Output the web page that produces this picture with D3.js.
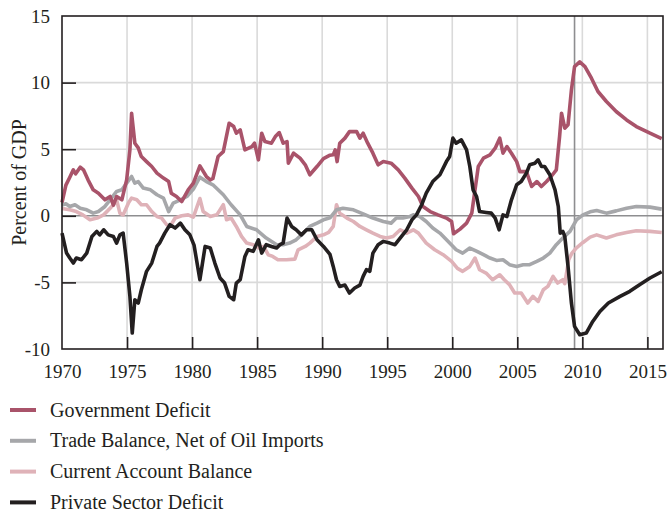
<!DOCTYPE html>
<html>
<head>
<meta charset="utf-8">
<script src="https://cdn.jsdelivr.net/npm/d3@7/dist/d3.min.js"></script>
<style>
  html, body { margin: 0; padding: 0; background: #fff; }
  svg { display: block; }
  text { font-family: "Liberation Serif", "Times New Roman", serif; fill: #231f20; }
</style>
</head>
<body>
<svg id="chart" width="667" height="513"></svg>
<script>
// ---- Data (year, percent of GDP) ----
const governmentDeficit = [
  [1970.0,1.0],[1970.3,2.3],[1970.6,2.9],[1970.87,3.45],[1971.05,3.15],[1971.4,3.65],[1971.65,3.45],
  [1972.0,2.7],[1972.4,1.95],[1972.8,1.7],[1973.05,1.45],[1973.3,1.2],[1973.7,1.45],[1973.95,0.8],
  [1974.2,1.45],[1974.6,1.2],[1974.97,2.7],[1975.22,4.95],[1975.35,7.7],[1975.6,5.45],[1975.86,5.1],
  [1976.1,4.45],[1976.5,4.07],[1976.9,3.7],[1977.3,3.2],[1977.8,2.83],[1978.2,2.57],[1978.4,1.7],
  [1978.8,1.45],[1979.2,1.07],[1979.7,1.95],[1980.1,2.45],[1980.6,3.75],[1981.1,2.95],[1981.4,2.7],
  [1981.6,2.8],[1982.0,4.45],[1982.4,4.82],[1982.85,6.95],[1983.2,6.7],[1983.4,6.2],[1983.7,6.45],
  [1984.06,4.95],[1984.6,5.2],[1984.8,5.45],[1985.1,4.2],[1985.35,6.2],[1985.6,5.57],[1986.1,5.45],
  [1986.4,5.95],[1986.7,6.25],[1987.0,5.45],[1987.3,5.57],[1987.4,3.95],[1987.8,4.7],[1988.3,4.33],
  [1988.7,3.83],[1989.05,3.08],[1989.6,3.7],[1990.1,4.3],[1990.6,4.55],[1990.85,4.58],[1991.0,4.95],
  [1991.15,4.07],[1991.35,5.45],[1991.75,5.83],[1992.1,6.32],[1992.65,6.32],[1992.9,5.83],[1993.15,6.2],
  [1993.5,5.45],[1993.9,4.7],[1994.3,3.83],[1994.7,4.07],[1995.3,3.95],[1995.85,3.45],[1996.35,2.83],
  [1996.9,2.08],[1997.4,1.45],[1997.75,0.7],[1998.3,0.32],[1998.9,0.07],[1999.55,-0.17],[1999.95,-0.43],
  [2000.1,-1.35],[2000.6,-1.0],[2001.1,-0.55],[2001.5,0.2],[2001.75,1.95],[2002.0,3.7],[2002.4,4.33],
  [2002.9,4.58],[2003.3,5.08],[2003.65,5.83],[2003.9,4.7],[2004.2,5.2],[2004.55,4.7],[2004.95,4.07],
  [2005.2,3.32],[2005.7,3.32],[2006.1,2.2],[2006.5,2.57],[2006.85,2.2],[2007.25,2.57],[2007.6,2.95],
  [2008.0,3.45],[2008.25,5.95],[2008.4,7.7],[2008.65,6.58],[2008.9,6.83],[2009.16,9.45],[2009.4,11.2],
  [2009.8,11.55],[2010.2,11.2],[2010.7,10.33],[2011.2,9.33],[2011.85,8.58],[2012.6,7.83],[2013.4,7.2],
  [2014.15,6.7],[2015.2,6.2],[2016.1,5.8]
];
const tradeBalanceNetOil = [
  [1970.0,0.8],[1970.3,0.9],[1970.6,0.7],[1971.0,0.83],[1971.4,0.57],[1971.9,0.45],[1972.4,0.2],
  [1972.8,0.32],[1973.3,0.7],[1973.8,1.33],[1974.2,1.83],[1974.6,1.95],[1974.97,2.45],[1975.35,2.95],
  [1975.6,2.45],[1975.86,2.57],[1976.25,2.08],[1976.8,1.95],[1977.3,1.58],[1977.8,1.33],[1978.2,0.32],
  [1978.55,0.95],[1979.1,1.2],[1979.6,1.45],[1980.1,2.0],[1980.6,2.9],[1981.1,2.57],[1981.6,2.33],
  [1982.4,1.58],[1983.0,0.83],[1983.7,0.07],[1984.2,-0.8],[1984.96,-1.05],[1985.7,-1.67],[1986.5,-2.17],
  [1987.0,-2.17],[1987.5,-2.05],[1988.0,-1.8],[1988.55,-1.3],[1989.05,-0.8],[1989.6,-0.55],[1990.1,-0.3],
  [1990.6,-0.15],[1991.1,0.45],[1991.6,0.57],[1992.4,0.45],[1993.15,0.15],[1993.9,-0.17],[1994.7,-0.43],
  [1995.3,-0.55],[1995.7,-0.17],[1996.2,-0.17],[1996.75,-0.05],[1997.0,0.07],[1997.5,-0.05],[1998.0,-0.43],
  [1998.5,-0.92],[1999.05,-1.3],[1999.8,-2.05],[2000.3,-2.55],[2000.8,-2.8],[2001.35,-2.42],[2001.9,-2.67],
  [2002.4,-2.92],[2002.9,-3.17],[2003.4,-3.35],[2003.9,-3.3],[2004.4,-3.67],[2004.95,-3.8],[2005.45,-3.67],
  [2005.95,-3.67],[2006.5,-3.42],[2007.0,-3.17],[2007.5,-2.8],[2008.0,-2.17],[2008.5,-1.67],[2009.05,-1.17],
  [2009.55,-0.3],[2010.05,0.07],[2010.6,0.3],[2011.1,0.4],[2011.85,0.2],[2012.6,0.37],[2013.4,0.57],
  [2014.15,0.7],[2015.2,0.65],[2016.1,0.5]
];
const currentAccountBalance = [
  [1970.0,0.55],[1970.6,0.45],[1971.1,0.32],[1971.6,0.07],[1972.15,-0.3],[1972.7,-0.17],[1973.2,0.07],
  [1973.7,0.57],[1973.95,0.83],[1974.2,1.2],[1974.45,0.2],[1974.7,0.07],[1975.1,0.95],[1975.35,1.33],
  [1975.75,1.2],[1976.1,0.83],[1976.5,0.83],[1976.9,0.32],[1977.3,-0.05],[1977.66,-0.17],[1978.05,-0.67],
  [1978.3,-0.8],[1978.7,-0.17],[1979.2,0.0],[1979.7,0.07],[1980.1,-0.1],[1980.6,1.3],[1980.85,0.32],
  [1981.4,-0.05],[1981.9,0.07],[1982.4,0.83],[1982.65,-0.3],[1983.0,-0.17],[1983.4,-0.8],[1983.8,-1.55],
  [1984.2,-2.05],[1984.7,-2.17],[1985.1,-2.42],[1985.5,-2.3],[1985.85,-2.92],[1986.2,-3.05],[1986.6,-3.3],
  [1987.25,-3.3],[1987.9,-3.25],[1988.15,-2.55],[1988.7,-2.3],[1989.05,-2.05],[1989.6,-1.55],[1990.1,-1.43],
  [1990.5,-1.25],[1990.85,-0.8],[1991.1,0.83],[1991.35,0.2],[1991.9,-0.17],[1992.4,-0.43],[1992.9,-0.8],
  [1993.4,-1.05],[1993.9,-1.3],[1994.45,-1.55],[1994.95,-1.67],[1995.45,-1.55],[1996.0,-1.05],[1996.5,-1.3],
  [1997.0,-1.05],[1997.4,-1.3],[1998.0,-2.05],[1998.65,-2.55],[1999.3,-2.92],[1999.95,-3.42],[2000.4,-3.95],
  [2000.8,-4.17],[2001.35,-3.8],[2001.75,-3.17],[2002.1,-4.05],[2002.6,-4.3],[2003.1,-4.8],[2003.65,-4.43],
  [2004.0,-4.8],[2004.4,-5.17],[2004.8,-5.8],[2005.3,-5.8],[2005.8,-6.55],[2006.2,-6.05],[2006.6,-6.43],
  [2007.0,-5.55],[2007.35,-5.3],[2007.75,-4.55],[2008.1,-5.05],[2008.5,-4.8],[2008.65,-5.1],[2008.95,-3.3],
  [2009.2,-2.8],[2009.55,-2.4],[2010.05,-2.0],[2010.6,-1.6],[2011.1,-1.43],[2011.85,-1.67],[2012.6,-1.43],
  [2013.4,-1.25],[2014.15,-1.12],[2015.2,-1.17],[2016.1,-1.25]
];
const privateSectorDeficit = [
  [1970.0,-1.3],[1970.35,-2.8],[1970.6,-3.17],[1970.87,-3.55],[1971.1,-3.17],[1971.5,-3.3],[1971.9,-2.8],
  [1972.3,-1.55],[1972.67,-1.17],[1972.9,-1.43],[1973.2,-1.05],[1973.55,-1.43],[1973.95,-1.55],[1974.2,-2.05],
  [1974.45,-1.43],[1974.7,-1.3],[1974.97,-3.55],[1975.22,-6.05],[1975.4,-8.8],[1975.6,-6.3],[1975.86,-6.55],
  [1976.1,-5.55],[1976.5,-4.17],[1976.9,-3.55],[1977.3,-2.3],[1977.5,-2.05],[1977.9,-1.3],[1978.3,-0.67],
  [1978.7,-0.92],[1979.1,-0.55],[1979.45,-1.05],[1979.83,-1.43],[1980.15,-2.2],[1980.6,-4.8],[1981.0,-2.3],
  [1981.4,-2.42],[1981.75,-3.55],[1982.15,-4.67],[1982.5,-5.05],[1982.85,-6.05],[1983.2,-6.3],[1983.4,-5.05],
  [1983.7,-4.8],[1984.06,-3.05],[1984.3,-2.55],[1984.7,-2.67],[1985.1,-1.8],[1985.35,-2.8],[1985.7,-2.17],
  [1986.1,-2.3],[1986.5,-2.42],[1986.75,-2.17],[1987.0,-2.05],[1987.3,-0.17],[1987.65,-0.8],[1988.0,-1.05],
  [1988.4,-1.43],[1988.8,-1.05],[1989.2,-1.05],[1989.6,-1.8],[1990.1,-2.3],[1990.6,-2.9],[1990.85,-3.8],
  [1991.1,-4.8],[1991.35,-5.3],[1991.75,-5.2],[1992.1,-5.8],[1992.5,-5.42],[1992.9,-5.2],[1993.15,-4.55],
  [1993.4,-4.05],[1993.66,-4.17],[1993.9,-2.8],[1994.3,-2.17],[1994.7,-1.92],[1995.2,-2.05],[1995.6,-2.17],
  [1996.1,-1.55],[1996.5,-1.05],[1996.9,-0.3],[1997.25,0.07],[1997.65,0.83],[1998.0,1.7],[1998.5,2.57],
  [1999.05,3.08],[1999.55,4.07],[1999.8,4.45],[2000.05,5.83],[2000.3,5.45],[2000.7,5.7],[2001.1,4.95],
  [2001.35,3.7],[2001.6,1.95],[2001.87,1.45],[2002.1,0.32],[2002.6,0.25],[2003.0,0.2],[2003.3,-0.17],
  [2003.6,-1.05],[2003.9,0.07],[2004.2,-0.05],[2004.55,1.2],[2004.95,2.33],[2005.3,2.57],[2005.7,3.2],
  [2005.95,3.83],[2006.35,3.95],[2006.6,4.2],[2006.86,3.7],[2007.1,3.7],[2007.5,3.08],[2007.9,1.95],
  [2008.15,0.7],[2008.3,-1.3],[2008.5,-1.17],[2008.65,-1.55],[2008.9,-3.8],[2009.16,-6.55],[2009.4,-8.3],
  [2009.8,-8.93],[2010.3,-8.8],[2010.8,-7.93],[2011.35,-7.18],[2012.0,-6.55],[2012.9,-6.05],[2013.65,-5.67],
  [2014.4,-5.17],[2015.2,-4.67],[2016.1,-4.2]
];
const seriesNames = ["Government Deficit", "Trade Balance, Net of Oil Imports", "Current Account Balance", "Private Sector Deficit"];
const xTickYears = [1970, 1975, 1980, 1985, 1990, 1995, 2000, 2005, 2010, 2015];
const yTickValues = [-10, -5, 0, 5, 10, 15];
const forecastMarkerYear = [2009.4];

// ---- Layout ----
const colors = { gov: "#a9536a", trade: "#a6a7aa", ca: "#dfb2b8", priv: "#231f20" };
const ink = "#231f20";
const svg = d3.select("#chart");
const x = d3.scaleLinear().domain([1970, 2016.2]).range([62, 663]);
const y = d3.scaleLinear().domain([-10, 15]).range([349, 16]);

// grid
const grid = svg.append("g");
grid.selectAll("line.v").data(xTickYears.slice(1)).enter().append("line")
  .attr("x1", d => x(d)).attr("x2", d => x(d)).attr("y1", y(15)).attr("y2", y(-10))
  .attr("stroke", "#dadada").attr("stroke-width", 1.6);
grid.selectAll("line.h").data(yTickValues.filter(v => v !== 0 && v !== -10 && v !== 15)).enter().append("line")
  .attr("x1", x(1970)).attr("x2", x(2016.2)).attr("y1", d => y(d)).attr("y2", d => y(d))
  .attr("stroke", "#dadada").attr("stroke-width", 1.6);

// zero line and forecast marker
svg.append("line").attr("x1", x(1970)).attr("x2", x(2016.2)).attr("y1", y(0)).attr("y2", y(0))
  .attr("stroke", "#8e8e90").attr("stroke-width", 1.6);
svg.selectAll("line.marker").data(forecastMarkerYear).enter().append("line")
  .attr("x1", d => x(d)).attr("x2", d => x(d)).attr("y1", y(15)).attr("y2", y(-10))
  .attr("stroke", "#8e8e90").attr("stroke-width", 1.6);

// series lines
const line = d3.line().x(d => x(d[0])).y(d => y(d[1]));
const drawOrder = [
  [currentAccountBalance, colors.ca],
  [tradeBalanceNetOil, colors.trade],
  [governmentDeficit, colors.gov],
  [privateSectorDeficit, colors.priv]
];
svg.selectAll("path.series").data(drawOrder).enter().append("path")
  .attr("d", d => line(d[0]))
  .attr("fill", "none").attr("stroke", d => d[1]).attr("stroke-width", 3.6)
  .attr("stroke-linejoin", "round").attr("stroke-linecap", "butt");

// axes (inward ticks)
const plainFmt = d => String(d);
const xAxis = d3.axisBottom(x).tickValues(xTickYears).tickFormat(plainFmt).tickSize(-12).tickPadding(16);
const gx = svg.append("g").attr("transform", `translate(0,${y(-10)})`).call(xAxis);
gx.select(".domain").remove();
gx.selectAll(".tick line").attr("stroke", ink).attr("stroke-width", 1.6)
  .filter(d => d === 1970).remove();
gx.selectAll(".tick text").attr("font-size", 19).attr("font-family", "Liberation Serif").attr("fill", ink);

const yAxis = d3.axisLeft(y).tickValues(yTickValues).tickFormat(plainFmt).tickSize(-14).tickPadding(12);
const gy = svg.append("g").attr("transform", `translate(${x(1970)},0)`).call(yAxis);
gy.select(".domain").remove();
gy.selectAll(".tick line").attr("stroke", ink).attr("stroke-width", 1.6)
  .filter(d => d === -10 || d === 15).remove();
gy.selectAll(".tick text").attr("font-size", 19).attr("font-family", "Liberation Serif").attr("fill", ink);

// frame
svg.append("rect").attr("x", x(1970)).attr("y", y(15)).attr("width", x(2016.2) - x(1970)).attr("height", y(-10) - y(15))
  .attr("fill", "none").attr("stroke", ink).attr("stroke-width", 1.6);

// y label
svg.append("text").attr("transform", `translate(26,${(y(15) + y(-10)) / 2}) rotate(-90)`)
  .attr("text-anchor", "middle").attr("font-size", 20).text("Percent of GDP");

// legend
const legendColors = [colors.gov, colors.trade, colors.ca, colors.priv];
const lg = svg.append("g");
const legendRows = lg.selectAll("g").data(seriesNames).enter().append("g")
  .attr("transform", (d, i) => `translate(10,${410 + i * 30.8})`);
legendRows.append("line").attr("x1", 0).attr("x2", 26).attr("y1", 0).attr("y2", 0)
  .attr("stroke", (d, i) => legendColors[i]).attr("stroke-width", 4);
legendRows.append("text").attr("x", 40).attr("y", 6.5).attr("font-size", 20).text(d => d);
</script>
</body>
</html>
